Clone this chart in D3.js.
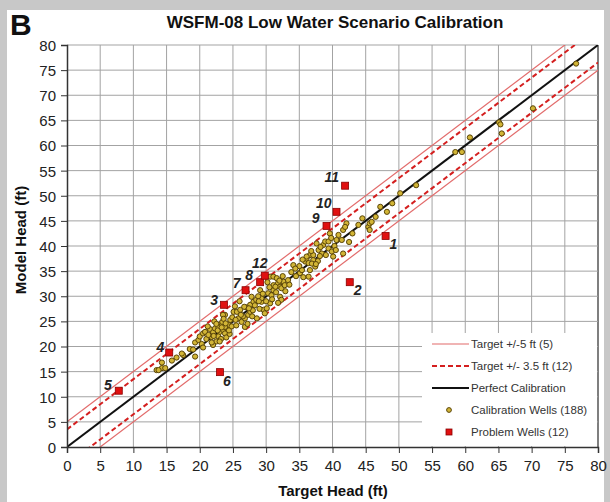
<!DOCTYPE html>
<html><head><meta charset="utf-8">
<script src="https://cdn.jsdelivr.net/npm/d3@7"></script>
<style>
html,body{margin:0;padding:0;background:#c8c8c8;}
svg{display:block;font-family:"Liberation Sans",Arial,sans-serif;}
</style></head>
<body>
<svg id="chart" width="610" height="502"></svg>
<script>
// ---- data ----
const xTicks = [0,5,10,15,20,25,30,35,40,45,50,55,60,65,70,75,80];
const yTicks = [0,5,10,15,20,25,30,35,40,45,50,55,60,65,70,75,80];
const calTarget = [
13.5,14.3,14.3,14.8,13.8,17.5,17.3,19.3,19.3,19.8,20.0,20.5,16.5,18.5,
20.8,21.8,22.0,22.3,22.8,23.0,23.3,23.5,23.8,24.1,24.3,23.8,23.4,23.5,23.8,24.6,21.0,21.5,22.5,22.0,22.8,23.2,24.0,24.5,21.2,22.2,20.3,21.8,23.6,24.8,22.5,23.0,
25.1,25.6,26.1,25.8,26.3,26.8,26.8,27.3,27.6,27.6,27.8,28.1,28.5,28.6,29.1,29.3,29.3,29.6,29.8,30.1,30.6,30.3,30.8,31.1,31.1,30.6,31.1,31.6,31.8,32.1,32.3,32.1,32.3,32.6,32.8,33.3,25.3,26.5,27.0,28.0,28.8,30.0,31.5,32.5,27.2,26.0,29.0,30.5,31.8,25.5,
34.1,35.1,35.4,35.9,36.1,36.4,36.6,36.6,37.1,37.4,36.4,37.6,36.1,37.1,37.9,38.4,34.5,35.0,33.8,36.9,35.6,37.8,
38.6,38.9,39.4,39.6,39.4,39.9,40.1,40.6,40.9,41.4,41.6,42.1,41.9,41.6,38.2,40.3,
43.9,45.4,45.6,45.6,45.9,47.2,48.2,49.0,50.2,
52.6,58.5,59.5,60.7,65.1,65.3,65.5,70.2,76.7,
20.5,21.3,22.1,22.7,23.3,23.9,24.4,24.9,25.4,26.2,26.7,27.4,27.9,28.3,28.9,29.5,30.2,30.9,31.4,32.0,32.9,33.5,34.4,35.5,36.8,37.5,38.1,39.0,39.8,40.5,42.5,43.0,44.5,46.5,
19.0,15.8];
const calModel = [
15.3,15.7,16.8,15.7,15.3,18.3,18.6,18.0,20.8,21.3,22.0,22.6,17.8,19.5,
22.9,21.9,22.9,23.6,23.9,22.9,24.6,23.3,22.6,23.6,24.3,26.3,24.9,26.3,23.9,25.3,21.5,23.5,21.0,20.3,22.0,21.5,21.8,22.5,24.0,25.0,20.5,20.8,25.5,24.0,24.5,21.0,
26.9,26.9,27.3,25.6,24.9,23.9,25.6,26.3,26.9,28.3,29.9,28.9,29.3,25.6,31.2,28.9,29.6,27.3,26.6,27.6,28.6,30.6,30.2,31.2,32.2,33.9,33.9,33.6,32.6,31.9,31.6,29.9,29.3,32.9,32.2,33.2,28.0,26.0,27.8,27.2,30.0,29.0,30.8,34.0,24.5,29.0,27.5,31.8,28.7,24.2,
36.2,34.6,35.2,36.9,37.5,36.6,38.2,35.2,37.2,35.9,33.9,40.5,37.9,38.2,39.2,38.5,34.0,36.0,34.8,36.5,33.8,37.0,
40.2,40.9,40.9,42.5,39.5,38.9,37.9,41.2,42.2,41.2,43.2,44.5,43.8,38.5,39.8,40.0,
44.2,43.8,44.5,43.2,44.8,47.8,46.8,48.5,50.5,
52.1,58.7,58.7,61.6,64.6,64.2,62.4,67.4,76.3,
19.8,22.3,22.1,23.2,23.8,24.6,23.2,25.8,25.3,26.3,27.9,27.6,26.0,28.2,29.0,30.5,32.8,29.4,31.9,33.1,31.0,32.3,35.5,37.3,39.0,36.4,38.0,38.2,41.6,39.2,40.8,42.5,45.5,45.8,
19.4,17.2];
const probId = ["1","2","3","4","5","6","7","8","12","9","10","11"];
const probTarget = [48.0,42.6,23.65,15.4,7.8,23.05,26.9,29.1,29.8,39.1,40.6,41.9];
const probModel  = [42.0,32.8,28.3,18.8,11.2,14.9,31.2,32.8,34.1,44.0,46.8,52.0];
const bandOffsets = [5,-5];      // Target +/-5 ft
const dashOffsets = [3.5,-3.5];  // Target +/-3.5 ft
const legendLabels = ["Target +/-5 ft (5)","Target +/- 3.5 ft (12)","Perfect Calibration","Calibration Wells (188)","Problem Wells (12)"];

// ---- layout / style ----
const M = {left:67, right:598, top:45, bottom:447};
const labelPos = { // dx, dy, anchor for problem well labels
 "1":[4,13,"start"],"2":[4,13,"start"],"3":[-6,0,"end"],"4":[-5,-1,"end"],"5":[-7,-1,"end"],
 "6":[3,14,"start"],"7":[-5,-2,"end"],"8":[-7,-2,"end"],"12":[-5,-8,"middle"],
 "9":[-7,-3,"end"],"10":[-5,-4,"end"],"11":[-6,-4,"end"]};

const svg = d3.select("#chart");
svg.append("rect").attr("x",7).attr("y",10).attr("width",597).attr("height",492).attr("fill","#fff");

const x = d3.scaleLinear().domain([0,80]).range([M.left,M.right]);
const y = d3.scaleLinear().domain([0,80]).range([M.bottom,M.top]);

// grid
const grid = svg.append("g");
grid.selectAll("line.v").data(xTicks.slice(1)).join("line")
  .attr("x1",d=>x(d)).attr("x2",d=>x(d)).attr("y1",M.top).attr("y2",M.bottom)
  .attr("stroke",d=>d===80?"#555":"#a3a3a3").attr("stroke-width",d=>d===80?1.5:1);
grid.selectAll("line.h").data(yTicks.slice(1)).join("line")
  .attr("x1",M.left).attr("x2",M.right).attr("y1",d=>y(d)).attr("y2",d=>y(d))
  .attr("stroke","#a3a3a3").attr("stroke-width",1);

// clip
svg.append("clipPath").attr("id","clip").append("rect")
  .attr("x",M.left).attr("y",M.top).attr("width",M.right-M.left).attr("height",M.bottom-M.top);
const plot = svg.append("g").attr("clip-path","url(#clip)");

const lineFor = off => [[0,off],[80,80+off]];
const path = d3.line().x(d=>x(d[0])).y(d=>y(d[1]));
bandOffsets.forEach(o=>plot.append("path").attr("d",path(lineFor(o))).attr("fill","none").attr("stroke","#e26b6b").attr("stroke-width",1.2));
dashOffsets.forEach(o=>plot.append("path").attr("d",path(lineFor(o))).attr("fill","none").attr("stroke","#d41f1f").attr("stroke-width",2).attr("stroke-dasharray","5,3"));
plot.append("path").attr("d",path(lineFor(0))).attr("fill","none").attr("stroke","#111").attr("stroke-width",2);

// legend background
const L = {x:422,y:333,w:175,h:113};
svg.append("rect").attr("x",L.x).attr("y",L.y).attr("width",L.w).attr("height",L.h).attr("fill","#fff");

// calibration wells
svg.append("g").selectAll("circle").data(calTarget.map((t,i)=>[t,calModel[i]])).join("circle")
  .attr("cx",d=>x(d[0])).attr("cy",d=>y(d[1])).attr("r",2.6)
  .attr("fill","#d2b536").attr("stroke","#5a4508").attr("stroke-width",1);

// problem wells
const pw = probId.map((id,i)=>({id,t:probTarget[i],m:probModel[i]}));
svg.append("g").selectAll("rect").data(pw).join("rect")
  .attr("x",d=>x(d.t)-3.5).attr("y",d=>y(d.m)-3.5).attr("width",7).attr("height",7)
  .attr("fill","#e01010").attr("stroke","#8a0000").attr("stroke-width",0.8);
svg.append("g").selectAll("text").data(pw).join("text")
  .attr("x",d=>x(d.t)+labelPos[d.id][0]).attr("y",d=>y(d.m)+labelPos[d.id][1])
  .attr("text-anchor",d=>labelPos[d.id][2])
  .attr("font-size",14).attr("font-weight","bold").attr("font-style","italic").attr("fill","#222")
  .text(d=>d.id);

// axes
const xAxis = svg.append("g").attr("transform",`translate(0,${M.bottom})`)
  .call(d3.axisBottom(x).tickValues(xTicks).tickSize(6).tickPadding(4));
const yAxis = svg.append("g").attr("transform",`translate(${M.left},0)`)
  .call(d3.axisLeft(y).tickValues(yTicks).tickSize(6).tickPadding(5));
[xAxis,yAxis].forEach(a=>{
  a.select(".domain").attr("stroke","#333").attr("stroke-width",1.5);
  a.selectAll(".tick line").attr("stroke","#333");
  a.selectAll(".tick text").attr("font-size",15).attr("fill","#222").attr("font-family","'Liberation Sans',Arial,sans-serif");
});
xAxis.selectAll(".tick text").attr("dy","0.95em");
yAxis.selectAll(".tick text").attr("dy","0.36em");

// legend
const lg = svg.append("g").attr("font-size",11.5).attr("fill","#333");
const ly = [344,366,388,410,432];
lg.append("line").attr("x1",432).attr("x2",469).attr("y1",ly[0]).attr("y2",ly[0]).attr("stroke","#e26b6b").attr("stroke-width",1.2);
lg.append("line").attr("x1",432).attr("x2",469).attr("y1",ly[1]).attr("y2",ly[1]).attr("stroke","#d41f1f").attr("stroke-width",2).attr("stroke-dasharray","5,3");
lg.append("line").attr("x1",432).attr("x2",469).attr("y1",ly[2]).attr("y2",ly[2]).attr("stroke","#111").attr("stroke-width",2);
lg.append("circle").attr("cx",449).attr("cy",ly[3]).attr("r",2.4).attr("fill","#d2b536").attr("stroke","#5a4508").attr("stroke-width",1);
lg.append("rect").attr("x",446).attr("y",ly[4]-3).attr("width",6).attr("height",6).attr("fill","#e01010").attr("stroke","#8a0000").attr("stroke-width",0.8);
lg.selectAll("text").data(legendLabels).join("text")
  .attr("x",471).attr("y",(d,i)=>ly[i]+4).attr("fill","#333").text(d=>d);

// titles
svg.append("text").attr("x",10).attr("y",35).attr("font-size",30).attr("font-weight","bold").attr("fill","#111").text("B");
svg.append("text").attr("x",335).attr("y",28).attr("text-anchor","middle").attr("font-size",17).attr("font-weight","bold").attr("fill","#111")
  .text("WSFM-08 Low Water Scenario Calibration");
svg.append("text").attr("x",333).attr("y",496).attr("text-anchor","middle").attr("font-size",15).attr("font-weight","bold").attr("fill","#111")
  .text("Target Head (ft)");
svg.append("text").attr("transform","translate(26,240) rotate(-90)").attr("text-anchor","middle").attr("font-size",15).attr("font-weight","bold").attr("fill","#111")
  .text("Model Head (ft)");
</script>
</body></html>
